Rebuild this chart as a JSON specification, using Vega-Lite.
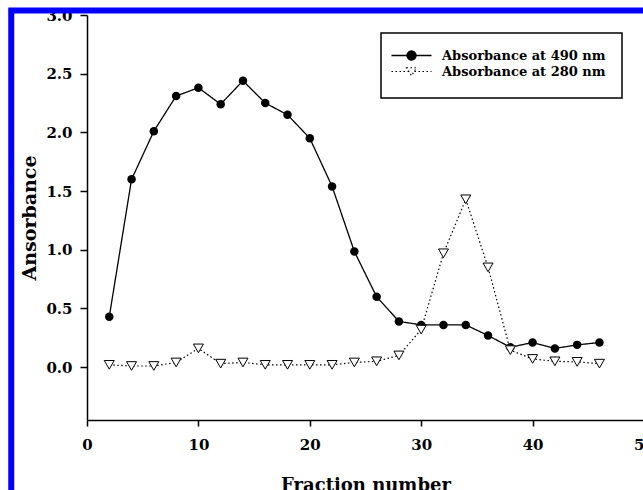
{
  "$schema": "https://vega.github.io/schema/vega-lite/v6.json",
  "width": 557,
  "height": 405,
  "autosize": {"type": "none"},
  "padding": {"left": 87, "top": 15, "right": 0, "bottom": 70},
  "background": "white",
  "config": {"view": {"stroke": null}, "font": "DejaVu Serif", "legend": {"strokeWidth": 1.5}},
  "resolve": {"scale": {"strokeDash": "independent"}, "legend": {"strokeDash": "independent"}},
  "data": {"values": [
    {"fraction": 2, "absorbance": 0.43, "series": "Absorbance at 490 nm"},
    {"fraction": 4, "absorbance": 1.60, "series": "Absorbance at 490 nm"},
    {"fraction": 6, "absorbance": 2.01, "series": "Absorbance at 490 nm"},
    {"fraction": 8, "absorbance": 2.31, "series": "Absorbance at 490 nm"},
    {"fraction": 10, "absorbance": 2.38, "series": "Absorbance at 490 nm"},
    {"fraction": 12, "absorbance": 2.24, "series": "Absorbance at 490 nm"},
    {"fraction": 14, "absorbance": 2.44, "series": "Absorbance at 490 nm"},
    {"fraction": 16, "absorbance": 2.25, "series": "Absorbance at 490 nm"},
    {"fraction": 18, "absorbance": 2.15, "series": "Absorbance at 490 nm"},
    {"fraction": 20, "absorbance": 1.95, "series": "Absorbance at 490 nm"},
    {"fraction": 22, "absorbance": 1.54, "series": "Absorbance at 490 nm"},
    {"fraction": 24, "absorbance": 0.985, "series": "Absorbance at 490 nm"},
    {"fraction": 26, "absorbance": 0.60, "series": "Absorbance at 490 nm"},
    {"fraction": 28, "absorbance": 0.39, "series": "Absorbance at 490 nm"},
    {"fraction": 30, "absorbance": 0.36, "series": "Absorbance at 490 nm"},
    {"fraction": 32, "absorbance": 0.36, "series": "Absorbance at 490 nm"},
    {"fraction": 34, "absorbance": 0.36, "series": "Absorbance at 490 nm"},
    {"fraction": 36, "absorbance": 0.27, "series": "Absorbance at 490 nm"},
    {"fraction": 38, "absorbance": 0.17, "series": "Absorbance at 490 nm"},
    {"fraction": 40, "absorbance": 0.21, "series": "Absorbance at 490 nm"},
    {"fraction": 42, "absorbance": 0.16, "series": "Absorbance at 490 nm"},
    {"fraction": 44, "absorbance": 0.19, "series": "Absorbance at 490 nm"},
    {"fraction": 46, "absorbance": 0.21, "series": "Absorbance at 490 nm"},
    {"fraction": 2, "absorbance": 0.02, "series": "Absorbance at 280 nm"},
    {"fraction": 4, "absorbance": 0.01, "series": "Absorbance at 280 nm"},
    {"fraction": 6, "absorbance": 0.01, "series": "Absorbance at 280 nm"},
    {"fraction": 8, "absorbance": 0.04, "series": "Absorbance at 280 nm"},
    {"fraction": 10, "absorbance": 0.16, "series": "Absorbance at 280 nm"},
    {"fraction": 12, "absorbance": 0.03, "series": "Absorbance at 280 nm"},
    {"fraction": 14, "absorbance": 0.04, "series": "Absorbance at 280 nm"},
    {"fraction": 16, "absorbance": 0.02, "series": "Absorbance at 280 nm"},
    {"fraction": 18, "absorbance": 0.02, "series": "Absorbance at 280 nm"},
    {"fraction": 20, "absorbance": 0.02, "series": "Absorbance at 280 nm"},
    {"fraction": 22, "absorbance": 0.02, "series": "Absorbance at 280 nm"},
    {"fraction": 24, "absorbance": 0.04, "series": "Absorbance at 280 nm"},
    {"fraction": 26, "absorbance": 0.05, "series": "Absorbance at 280 nm"},
    {"fraction": 28, "absorbance": 0.10, "series": "Absorbance at 280 nm"},
    {"fraction": 30, "absorbance": 0.32, "series": "Absorbance at 280 nm"},
    {"fraction": 32, "absorbance": 0.97, "series": "Absorbance at 280 nm"},
    {"fraction": 34, "absorbance": 1.43, "series": "Absorbance at 280 nm"},
    {"fraction": 36, "absorbance": 0.85, "series": "Absorbance at 280 nm"},
    {"fraction": 38, "absorbance": 0.145, "series": "Absorbance at 280 nm"},
    {"fraction": 40, "absorbance": 0.07, "series": "Absorbance at 280 nm"},
    {"fraction": 42, "absorbance": 0.05, "series": "Absorbance at 280 nm"},
    {"fraction": 44, "absorbance": 0.045, "series": "Absorbance at 280 nm"},
    {"fraction": 46, "absorbance": 0.03, "series": "Absorbance at 280 nm"}
  ]},
  "layer": [
    {
      "data": {"values": [{"frame": 1}]},
      "mark": {"type": "rect", "filled": false, "stroke": "#0000ff", "strokeWidth": 6, "clip": false},
      "encoding": {
        "x": {"datum": -6.8, "type": "quantitative", "scale": {"domain": [0, 50], "nice": false, "zero": false}},
        "x2": {"datum": 70},
        "y": {"datum": 3.038, "type": "quantitative", "scale": {"domain": [-0.45, 3.0], "nice": false, "zero": false}},
        "y2": {"datum": -2}
      }
    },
    {
      "transform": [{"filter": "datum.series === 'Absorbance at 490 nm'"}],
      "mark": {"type": "line", "color": "black", "strokeWidth": 1.3},
      "encoding": {
        "x": {
          "field": "fraction", "type": "quantitative",
          "scale": {"domain": [0, 50], "nice": false, "zero": false},
          "axis": {
            "title": "Fraction number", "values": [0, 10, 20, 30, 40, 50], "grid": false,
            "tickSize": 6, "labelPadding": 11, "domainColor": "black", "domainWidth": 1.5,
            "tickColor": "black", "tickWidth": 1.5, "labelFont": "DejaVu Serif", "labelFontWeight": "bold",
            "labelFontSize": 15, "labelColor": "black", "labelFlush": false, "labelOverlap": false,
            "titleFont": "DejaVu Serif", "titleFontWeight": "bold", "titleFontSize": 18, "titleColor": "black", "titlePadding": 24
          }
        },
        "y": {
          "field": "absorbance", "type": "quantitative",
          "scale": {"domain": [-0.45, 3.0], "nice": false, "zero": false},
          "axis": {
            "title": "Ansorbance", "values": [0, 0.5, 1, 1.5, 2, 2.5, 3], "format": ".1f", "grid": false,
            "tickSize": 7, "labelPadding": 8, "domainColor": "black", "domainWidth": 1.5,
            "tickColor": "black", "tickWidth": 1.5, "labelFont": "DejaVu Serif", "labelFontWeight": "bold",
            "labelFontSize": 15, "labelColor": "black", "labelOverlap": false,
            "titleFont": "DejaVu Serif", "titleFontWeight": "bold", "titleFontSize": 19, "titleColor": "black", "titlePadding": 6
          }
        },
        "strokeDash": {
          "field": "series", "type": "nominal",
          "scale": {"domain": ["Absorbance at 490 nm"], "range": [[1, 0]]},
          "legend": {
            "title": " ", "titleOrient": "bottom", "titleFontSize": 10, "titlePadding": 9, "titleColor": "white",
            "orient": "none", "legendX": 294, "legendY": 18, "padding": 16,
            "strokeColor": "black", "fillColor": "white",
            "labelFont": "DejaVu Serif", "labelFontWeight": "bold", "labelFontSize": 13, "labelColor": "black", "labelLimit": 0,
            "symbolType": "M-4,0H4M-0.9,0A0.9,0.9 0 1,1 0.9,0A0.9,0.9 0 1,1 -0.9,0Z",
            "symbolSize": 100, "symbolOffset": 8, "labelOffset": 24,
            "symbolFillColor": "black", "symbolStrokeColor": "black", "symbolStrokeWidth": 1.3
          }
        }
      }
    },
    {
      "transform": [{"filter": "datum.series === 'Absorbance at 280 nm'"}],
      "mark": {"type": "line", "color": "black", "strokeWidth": 1.2},
      "encoding": {
        "x": {"field": "fraction", "type": "quantitative"},
        "y": {"field": "absorbance", "type": "quantitative"},
        "strokeDash": {
          "field": "series", "type": "nominal",
          "scale": {"domain": ["Absorbance at 280 nm"], "range": [[1.5, 2.5]]},
          "legend": {
            "title": null, "orient": "none", "legendX": 310, "legendY": 50, "padding": 0,
            "strokeColor": "transparent", "fillColor": "transparent",
            "labelFont": "DejaVu Serif", "labelFontWeight": "bold", "labelFontSize": 13, "labelColor": "black", "labelLimit": 0,
            "symbolType": "M-4,0H-0.6M0.6,0H4M-1,-0.75L1,-0.75L0,0.85Z",
            "symbolSize": 100, "symbolOffset": 8, "labelOffset": 24,
            "symbolFillColor": "white", "symbolStrokeColor": "black", "symbolStrokeWidth": 1.2
          }
        }
      }
    },
    {
      "transform": [{"filter": "datum.series === 'Absorbance at 490 nm'"}],
      "mark": {"type": "point", "shape": "circle", "filled": true, "color": "black", "size": 72, "opacity": 1},
      "encoding": {
        "x": {"field": "fraction", "type": "quantitative"},
        "y": {"field": "absorbance", "type": "quantitative"}
      }
    },
    {
      "transform": [{"filter": "datum.series === 'Absorbance at 280 nm'"}],
      "mark": {"type": "point", "shape": "triangle-down", "filled": true, "fill": "white", "stroke": "black", "strokeWidth": 1, "size": 100, "opacity": 1},
      "encoding": {
        "x": {"field": "fraction", "type": "quantitative"},
        "y": {"field": "absorbance", "type": "quantitative"}
      }
    }
  ]
}
